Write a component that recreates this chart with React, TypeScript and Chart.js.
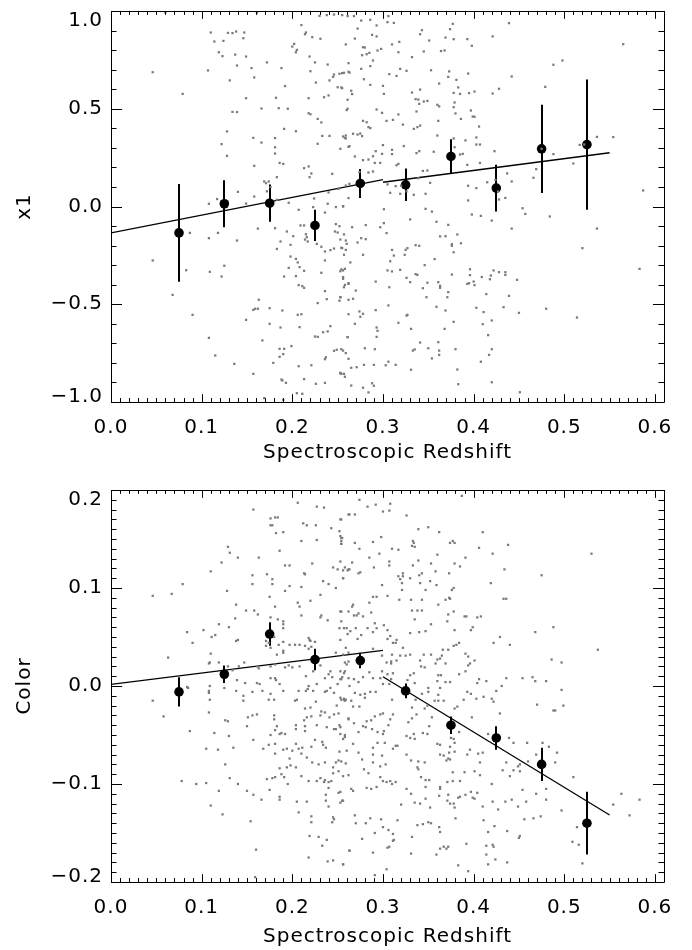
import React, { useEffect, useRef } from 'react';
import { Chart, registerables } from 'chart.js';

Chart.register(...registerables);

const FONT = 'DejaVu Sans';

// Binned means with their uncertainties
const binCenters = [0.075, 0.125, 0.175, 0.225, 0.275, 0.325, 0.375, 0.425, 0.475, 0.525];
const x1BinMean = [-0.135, 0.014, 0.017, -0.097, 0.118, 0.111, 0.256, 0.094, 0.295, 0.317];
const x1BinErr = [0.25, 0.12, 0.095, 0.08, 0.074, 0.083, 0.088, 0.12, 0.226, 0.333];
const colorBinMean = [-0.006, 0.012, 0.053, 0.027, 0.026, -0.005, -0.04, -0.053, -0.08, -0.14];
const colorBinErr = [0.015, 0.009, 0.012, 0.011, 0.008, 0.0075, 0.009, 0.012, 0.017, 0.032];

// Linear fits, one below and one above z = 0.3
const fitLowZ = [0, 0.3];
const fitHighZ = [0.3, 0.55];
const x1FitLow = [-0.135, 0.138];
const x1FitHigh = [0.124, 0.275];
const colorFitLow = [0.0017, 0.0363];
const colorFitHigh = [0.0095, -0.1316];

// Axis ticks
const xTicks = [0, 0.1, 0.2, 0.3, 0.4, 0.5, 0.6];
const x1Ticks = [-1, -0.5, 0, 0.5, 1];
const colorTicks = [-0.2, -0.1, 0, 0.1, 0.2];

// Individual supernovae: [redshift, x1]
const x1Sample: number[][] = [
  [0.046,0.687],[0.079,0.576],[0.110,0.890],[0.114,0.844],[0.124,0.847],[0.129,0.888],[0.134,0.887],[0.138,0.895],[0.147,0.890],[0.146,0.861],
  [0.119,0.789],[0.123,0.769],[0.137,0.777],[0.149,0.767],[0.107,0.696],[0.139,0.721],[0.131,0.645],[0.155,0.708],[0.158,0.660],[0.149,0.554],
  [0.172,0.737],[0.188,0.708],[0.192,0.616],[0.200,0.818],[0.202,0.832],[0.205,0.801],[0.204,0.789],[0.210,0.928],[0.214,0.881],[0.215,0.890],
  [0.222,0.866],[0.231,0.858],[0.219,0.767],[0.225,0.737],[0.220,0.692],[0.226,0.634],[0.239,0.726],[0.241,0.645],[0.245,0.663],[0.246,0.675],
  [0.250,0.610],[0.252,0.679],[0.255,0.605],[0.257,0.684],[0.262,0.689],[0.235,0.559],[0.240,0.568],[0.218,0.554],[0.218,0.477],[0.220,0.472],
  [0.228,0.448],[0.195,0.500],[0.185,0.503],[0.182,0.556],[0.166,0.501],[0.134,0.484],[0.139,0.483],[0.122,0.319],[0.128,0.384],[0.128,0.259],
  [0.157,0.351],[0.166,0.327],[0.181,0.350],[0.181,0.303],[0.181,0.271],[0.191,0.397],[0.204,0.385],[0.186,0.223],[0.190,0.218],[0.158,0.208],
  [0.174,0.128],[0.169,0.128],[0.171,0.119],[0.176,0.099],[0.183,0.150],[0.213,0.196],[0.218,0.205],[0.221,0.169],[0.219,0.150],[0.232,0.430],
  [0.233,0.361],[0.241,0.361],[0.228,0.321],[0.253,0.295],[0.256,0.358],[0.258,0.351],[0.262,0.305],[0.244,0.167],[0.251,0.090],[0.240,0.072],
  [0.261,0.546],[0.260,0.493],[0.140,0.075],[0.108,0.014],[0.117,0.038],[0.149,0.015],[0.158,0.051],[0.172,0.078],[0.183,0.034],[0.196,0.019],
  [0.224,0.041],[0.239,0.014],[0.248,-0.003],[0.256,0.002],[0.207,-0.017],[0.223,-0.003],[0.236,-0.031],[0.262,0.043],[0.060,0.991],[0.161,0.991],
  [0.230,0.975],[0.238,0.979],[0.246,0.982],[0.255,0.979],
  [0.046,-0.276],[0.083,-0.326],[0.068,-0.452],[0.090,-0.554],[0.087,-0.135],[0.108,-0.162],[0.118,-0.135],[0.109,-0.334],[0.122,-0.358],[0.125,-0.303],
  [0.139,-0.174],[0.162,-0.113],[0.108,-0.672],[0.115,-0.762],[0.136,-0.805],[0.149,-0.580],[0.157,-0.529],[0.159,-0.523],[0.162,-0.523],[0.163,-0.477],
  [0.157,-0.856],[0.167,-0.685],[0.175,-0.520],[0.175,-0.600],[0.181,-0.111],[0.183,-0.217],[0.187,-0.179],[0.189,-0.532],[0.187,-0.619],[0.194,-0.128],
  [0.198,-0.196],[0.198,-0.256],[0.201,-0.152],[0.204,-0.268],[0.206,-0.286],[0.208,-0.310],[0.206,-0.554],[0.210,-0.551],[0.208,-0.617],[0.207,-0.402],
  [0.211,-0.407],[0.213,-0.416],[0.213,-0.329],[0.191,-0.358],[0.196,-0.314],[0.204,-0.356],[0.186,-0.728],[0.186,-0.769],[0.190,-0.755],[0.191,-0.728],
  [0.199,-0.714],[0.193,-0.902],[0.189,-0.890],[0.179,-0.800],[0.188,-0.885],[0.207,-0.817],[0.221,-0.812],[0.225,-0.665],[0.213,-0.883],[0.226,-0.907],
  [0.236,-0.902],[0.205,-0.955],[0.211,-0.958],[0.169,-0.980],[0.190,-0.989],[0.209,-0.097],[0.213,-0.097],[0.215,-0.142],[0.216,-0.157],[0.214,-0.169],
  [0.217,-0.179],[0.227,-0.191],[0.232,-0.206],[0.236,-0.230],[0.242,-0.223],[0.246,-0.215],[0.252,-0.101],[0.254,-0.211],[0.259,-0.222],[0.236,-0.276],
  [0.232,-0.339],[0.253,-0.331],[0.256,-0.370],[0.258,-0.401],[0.254,-0.322],[0.262,-0.396],[0.248,-0.090],[0.247,-0.128],[0.250,-0.133],[0.253,-0.169],
  [0.259,-0.174],[0.253,-0.464],[0.252,-0.482],[0.236,-0.433],[0.238,-0.474],[0.228,-0.494],[0.242,-0.612],[0.239,-0.639],[0.234,-0.643],[0.228,-0.667],
  [0.237,-0.771],[0.236,-0.781],[0.246,-0.738],[0.253,-0.851],[0.254,-0.856],[0.258,-0.871],[0.262,-0.779],[0.261,-0.668],[0.262,-0.477],[0.256,-0.737],
  [0.249,-0.733],
  [0.261,0.974],[0.268,0.974],[0.276,0.951],[0.286,0.955],[0.293,0.926],[0.306,0.974],[0.305,0.943],[0.312,0.939],[0.272,0.910],[0.259,0.829],
  [0.269,0.859],[0.288,0.878],[0.293,0.870],[0.280,0.813],[0.277,0.774],[0.282,0.779],[0.285,0.786],[0.294,0.798],[0.298,0.806],[0.289,0.747],
  [0.278,0.815],[0.262,0.733],[0.255,0.682],[0.263,0.685],[0.276,0.704],[0.286,0.718],[0.279,0.651],[0.286,0.622],[0.254,0.609],[0.265,0.592],
  [0.266,0.575],[0.261,0.500],[0.310,0.829],[0.318,0.842],[0.317,0.789],[0.332,0.764],[0.341,0.881],[0.343,0.902],[0.351,0.849],[0.345,0.793],
  [0.364,0.795],[0.368,0.798],[0.374,0.907],[0.377,0.934],[0.369,0.864],[0.378,0.856],[0.393,0.856],[0.398,0.822],[0.421,0.870],[0.439,0.938],
  [0.307,0.677],[0.315,0.668],[0.319,0.704],[0.326,0.694],[0.353,0.697],[0.362,0.629],[0.373,0.691],[0.372,0.663],[0.381,0.648],[0.383,0.609],
  [0.378,0.581],[0.385,0.576],[0.395,0.580],[0.401,0.588],[0.394,0.680],[0.421,0.578],[0.428,0.602],[0.442,0.665],[0.479,0.612],[0.488,0.725],
  [0.498,0.747],[0.565,0.830],[0.300,0.617],[0.301,0.576],[0.332,0.583],[0.341,0.598],[0.336,0.549],[0.339,0.547],[0.340,0.525],[0.345,0.537],
  [0.349,0.540],[0.337,0.486],[0.360,0.520],[0.362,0.512],[0.379,0.532],[0.378,0.508],[0.397,0.491],[0.399,0.460],[0.401,0.459],[0.406,0.409],
  [0.380,0.476],[0.386,0.448],[0.293,0.496],[0.299,0.479],[0.304,0.438],[0.311,0.443],[0.317,0.471],[0.322,0.419],[0.278,0.438],[0.282,0.431],
  [0.284,0.406],[0.286,0.401],[0.272,0.368],[0.267,0.372],[0.275,0.373],[0.277,0.360],[0.259,0.363],[0.259,0.348],[0.263,0.309],[0.269,0.256],
  [0.278,0.237],[0.284,0.240],[0.289,0.257],[0.292,0.283],[0.291,0.223],[0.297,0.223],[0.299,0.269],[0.300,0.314],[0.310,0.290],[0.310,0.268],
  [0.315,0.211],[0.317,0.218],[0.323,0.309],[0.334,0.397],[0.338,0.406],[0.341,0.414],[0.340,0.283],[0.337,0.273],[0.356,0.280],[0.344,0.182],
  [0.349,0.184],[0.352,0.121],[0.339,0.145],[0.360,0.363],[0.361,0.438],[0.378,0.348],[0.379,0.303],[0.385,0.266],[0.388,0.269],[0.391,0.338],
  [0.403,0.353],[0.403,0.317],[0.407,0.317],[0.393,0.213],[0.407,0.223],[0.423,0.283],[0.415,0.124],[0.424,0.136],[0.427,0.077],[0.437,0.169],
  [0.442,0.128],[0.428,0.036],[0.435,0.044],[0.394,0.106],[0.403,0.094],[0.394,0.031],[0.398,-0.041],[0.408,-0.048],[0.454,-0.009],[0.457,-0.038],
  [0.466,0.147],[0.469,0.191],[0.488,0.268],[0.510,0.220],[0.517,0.315],[0.522,0.317],[0.536,0.356],[0.554,0.355],[0.587,0.082],[0.484,-0.051],
  [0.259,0.107],[0.263,0.116],[0.284,0.174],[0.289,0.179],[0.274,0.176],[0.305,0.113],[0.308,0.070],[0.314,0.104],[0.320,0.106],[0.319,0.065],
  [0.326,0.077],[0.334,0.060],[0.347,0.065],[0.301,-0.014],[0.330,-0.066],[0.347,-0.012],[0.354,-0.026],[0.256,0.000],[0.475,0.295],
  [0.257,-0.143],[0.260,-0.191],[0.266,-0.106],[0.281,-0.095],[0.276,-0.162],[0.272,-0.184],[0.281,-0.167],[0.278,-0.247],[0.264,-0.286],[0.257,-0.247],
  [0.255,-0.213],[0.258,-0.319],[0.256,-0.327],[0.256,-0.361],[0.262,-0.392],[0.257,-0.413],[0.270,-0.430],[0.267,-0.472],[0.253,-0.464],[0.262,-0.551],
  [0.274,-0.537],[0.278,-0.549],[0.275,-0.564],[0.269,-0.600],[0.261,-0.668],[0.254,-0.730],[0.259,-0.750],[0.265,-0.825],[0.271,-0.822],[0.279,-0.810],
  [0.290,-0.810],[0.280,-0.725],[0.291,-0.730],[0.293,-0.667],[0.293,-0.619],[0.294,-0.636],[0.292,-0.530],[0.292,-0.384],[0.297,-0.106],[0.301,-0.085],
  [0.304,-0.136],[0.310,-0.222],[0.312,-0.251],[0.308,-0.280],[0.305,-0.327],[0.310,-0.332],[0.319,-0.324],[0.325,-0.222],[0.327,-0.213],[0.324,-0.247],
  [0.336,-0.198],[0.340,-0.201],[0.346,-0.300],[0.336,-0.346],[0.338,-0.350],[0.326,-0.365],[0.330,-0.387],[0.344,-0.418],[0.349,-0.390],[0.348,-0.464],
  [0.357,-0.269],[0.359,-0.078],[0.363,-0.153],[0.369,-0.152],[0.372,-0.094],[0.382,-0.143],[0.386,-0.188],[0.376,-0.193],[0.376,-0.201],[0.378,-0.234],
  [0.361,-0.387],[0.363,-0.406],[0.363,-0.416],[0.372,-0.438],[0.371,-0.464],[0.376,-0.348],[0.359,-0.513],[0.369,-0.532],[0.378,-0.590],[0.368,-0.626],
  [0.361,-0.694],[0.350,-0.725],[0.354,-0.777],[0.362,-0.737],[0.362,-0.759],[0.380,-0.730],[0.382,-0.834],[0.383,-0.909],[0.331,-0.626],[0.341,-0.696],
  [0.335,-0.731],[0.333,-0.737],[0.317,-0.595],[0.306,-0.506],[0.307,-0.413],[0.327,-0.554],[0.326,-0.558],[0.314,-0.810],[0.303,-0.812],[0.306,-0.794],
  [0.331,-0.835],[0.288,-0.904],[0.290,-0.917],[0.284,-0.951],[0.278,-0.927],[0.265,-0.916],[0.257,-0.856],[0.253,-0.853],[0.393,-0.396],[0.395,-0.392],
  [0.396,-0.351],[0.396,-0.321],[0.400,-0.384],[0.401,-0.402],[0.409,-0.361],[0.420,-0.072],[0.418,-0.372],[0.419,-0.353],[0.422,-0.327],[0.428,-0.336],
  [0.435,-0.336],[0.435,-0.350],[0.448,-0.375],[0.414,-0.448],[0.403,-0.518],[0.411,-0.540],[0.410,-0.602],[0.420,-0.583],[0.416,-0.658],[0.420,-0.730],
  [0.417,-0.759],[0.408,-0.794],[0.433,-0.515],[0.439,-0.457],[0.450,-0.544],[0.442,-0.113],[0.420,-0.899],[0.451,-0.950],[0.480,-0.523],[0.520,-0.213],
  [0.514,-0.568],[0.536,-0.113],[0.583,-0.319],
];

// Individual supernovae: [redshift, color]
const colorSample: number[][] = [
  [0.046,0.092],[0.067,0.094],[0.079,0.104],[0.063,0.029],[0.084,0.055],[0.090,0.044],[0.046,-0.015],[0.084,-0.001],[0.085,-0.002],[0.102,0.057],
  [0.110,0.117],[0.122,0.126],[0.129,0.142],[0.131,0.136],[0.140,0.131],[0.128,0.097],[0.138,0.083],[0.149,0.077],[0.158,0.077],[0.162,0.073],
  [0.137,0.069],[0.119,0.063],[0.130,0.060],[0.115,0.052],[0.111,0.050],[0.110,0.033],[0.108,0.023],[0.109,0.024],[0.119,0.024],[0.129,0.020],
  [0.140,0.047],[0.138,0.046],[0.147,0.024],[0.141,0.020],[0.134,0.016],[0.139,0.006],[0.148,0.003],[0.161,0.003],[0.167,-0.005],[0.156,-0.006],
  [0.146,-0.010],[0.146,-0.015],[0.109,0.000],[0.108,-0.005],[0.108,-0.007],[0.109,-0.014],[0.125,-0.002],[0.138,-0.005],[0.157,0.180],[0.163,0.131],
  [0.156,0.104],[0.156,0.113],[0.172,0.114],[0.178,0.104],[0.178,0.109],[0.175,0.091],[0.181,0.081],[0.176,0.070],[0.184,0.068],[0.190,0.066],
  [0.190,0.063],[0.190,0.059],[0.180,0.050],[0.174,0.044],[0.171,0.046],[0.171,0.041],[0.176,0.039],[0.185,0.042],[0.190,0.045],[0.190,0.034],
  [0.183,0.032],[0.161,0.020],[0.163,0.018],[0.176,0.020],[0.181,0.022],[0.192,0.019],[0.196,0.021],[0.200,0.019],[0.208,0.020],[0.190,0.036],
  [0.197,0.042],[0.176,0.008],[0.181,0.008],[0.186,0.002],[0.176,-0.008],[0.164,0.002],[0.174,-0.014],[0.180,-0.014],[0.190,-0.005],[0.182,0.006],
  [0.176,0.164],[0.178,0.164],[0.181,0.172],[0.184,0.172],[0.176,0.171],[0.182,0.156],[0.190,0.157],[0.186,0.138],[0.192,0.123],[0.197,0.123],
  [0.192,0.097],[0.197,0.102],[0.206,0.085],[0.208,0.081],[0.210,0.101],[0.213,0.115],[0.214,0.114],[0.210,0.072],[0.220,0.087],[0.218,0.049],
  [0.219,0.047],[0.220,0.046],[0.225,0.045],[0.221,0.040],[0.218,0.038],[0.214,0.041],[0.208,0.042],[0.203,0.042],[0.212,0.166],[0.216,0.164],
  [0.226,0.164],[0.210,0.148],[0.227,0.149],[0.222,0.125],[0.227,0.183],[0.235,0.182],[0.243,0.161],[0.252,0.158],[0.245,0.121],[0.250,0.119],
  [0.253,0.153],[0.255,0.151],[0.254,0.148],[0.254,0.145],[0.254,0.170],[0.262,0.175],[0.253,0.127],[0.256,0.118],[0.262,0.119],[0.256,0.110],
  [0.248,0.100],[0.234,0.107],[0.240,0.104],[0.231,0.093],[0.231,0.070],[0.232,0.072],[0.239,0.067],[0.254,0.076],[0.262,0.076],[0.254,0.066],
  [0.252,0.059],[0.260,0.059],[0.253,0.047],[0.248,0.034],[0.256,0.032],[0.258,0.024],[0.253,0.015],[0.242,0.015],[0.240,0.012],[0.236,0.008],
  [0.244,0.009],[0.250,0.002],[0.253,0.007],[0.255,0.009],[0.258,0.015],[0.231,0.021],[0.223,0.015],[0.215,0.010],[0.218,0.000],[0.223,-0.005],
  [0.217,-0.003],[0.215,-0.005],[0.227,0.002],[0.207,-0.005],[0.203,-0.015],[0.205,-0.014],[0.226,-0.016],[0.242,-0.002],[0.238,-0.005],[0.236,-0.006],
  [0.246,-0.007],[0.253,-0.012],[0.257,-0.014],[0.259,-0.014],[0.206,0.187],[0.262,0.034],[0.262,0.008],[0.262,0.025],[0.260,0.022],[0.249,-0.020],
  [0.220,-0.022],[0.214,-0.023],
  [0.274,0.190],[0.283,0.183],[0.292,0.185],[0.308,0.186],[0.307,0.179],[0.300,0.178],[0.263,0.175],[0.269,0.175],[0.326,0.174],[0.387,0.194],
  [0.339,0.160],[0.350,0.162],[0.362,0.157],[0.410,0.157],[0.333,0.148],[0.334,0.146],[0.332,0.143],[0.335,0.142],[0.374,0.146],[0.377,0.148],
  [0.379,0.146],[0.406,0.141],[0.438,0.144],[0.421,0.135],[0.360,0.134],[0.391,0.131],[0.385,0.122],[0.379,0.125],[0.353,0.125],[0.339,0.128],
  [0.333,0.123],[0.343,0.115],[0.340,0.113],[0.330,0.110],[0.352,0.107],[0.359,0.103],[0.347,0.098],[0.341,0.105],[0.310,0.140],[0.317,0.139],
  [0.298,0.152],[0.289,0.147],[0.296,0.135],[0.285,0.131],[0.290,0.121],[0.307,0.127],[0.307,0.123],[0.322,0.115],[0.322,0.112],[0.319,0.109],
  [0.317,0.112],[0.321,0.105],[0.321,0.098],[0.318,0.088],[0.305,0.092],[0.299,0.103],[0.331,0.088],[0.285,0.085],[0.289,0.091],[0.293,0.091],
  [0.273,0.115],[0.275,0.116],[0.261,0.118],[0.263,0.119],[0.266,0.126],[0.258,0.121],[0.256,0.110],[0.269,0.146],[0.274,0.140],[0.254,0.151],
  [0.254,0.145],[0.253,0.170],[0.358,0.117],[0.373,0.115],[0.376,0.098],[0.378,0.100],[0.369,0.088],[0.373,0.090],[0.374,0.089],[0.361,0.083],
  [0.343,0.088],[0.419,0.105],[0.433,0.089],[0.436,0.089],[0.434,0.119],[0.475,0.113],[0.530,0.135],[0.488,0.060],[0.468,0.055],[0.429,0.050],
  [0.440,0.042],[0.422,0.044],[0.408,0.071],[0.404,0.070],[0.392,0.071],[0.390,0.071],[0.399,0.060],[0.397,0.057],[0.379,0.057],[0.372,0.073],
  [0.371,0.066],[0.378,0.076],[0.353,0.063],[0.347,0.056],[0.340,0.055],[0.330,0.054],[0.332,0.077],[0.338,0.077],[0.343,0.077],[0.335,0.068],
  [0.315,0.047],[0.314,0.044],[0.311,0.044],[0.305,0.057],[0.308,0.051],[0.305,0.048],[0.301,0.062],[0.291,0.064],[0.293,0.059],[0.289,0.055],
  [0.283,0.059],[0.276,0.052],[0.270,0.059],[0.264,0.056],[0.257,0.059],[0.261,0.053],[0.268,0.072],[0.267,0.083],[0.266,0.081],[0.271,0.072],
  [0.273,0.074],[0.278,0.071],[0.287,0.075],[0.253,0.076],[0.259,0.039],[0.272,0.048],[0.289,0.038],[0.299,0.031],[0.304,0.024],[0.309,0.023],
  [0.310,0.032],[0.309,0.025],[0.315,0.026],[0.322,0.039],[0.325,0.031],[0.330,0.032],[0.341,0.026],[0.342,0.020],[0.345,0.032],[0.346,0.019],
  [0.353,0.032],[0.358,0.023],[0.360,0.027],[0.363,0.028],[0.369,0.023],[0.365,0.031],[0.372,0.037],[0.378,0.041],[0.381,0.042],[0.384,0.044],
  [0.366,0.037],[0.391,0.033],[0.394,0.030],[0.396,0.023],[0.394,0.021],[0.401,0.026],[0.391,0.015],[0.404,0.003],[0.406,0.007],[0.393,-0.006],
  [0.384,0.012],[0.374,0.004],[0.369,0.004],[0.364,0.011],[0.361,0.011],[0.360,0.005],[0.363,-0.002],[0.361,-0.009],[0.361,-0.015],[0.357,-0.015],
  [0.367,-0.015],[0.350,-0.002],[0.350,-0.006],[0.343,-0.008],[0.335,0.003],[0.330,0.011],[0.327,0.006],[0.319,0.031],[0.334,0.013],[0.311,0.013],
  [0.309,0.007],[0.305,0.012],[0.299,0.015],[0.297,0.008],[0.289,0.008],[0.285,0.014],[0.278,0.009],[0.273,0.004],[0.268,0.007],[0.257,0.013],
  [0.263,0.000],[0.254,0.007],[0.269,-0.007],[0.265,-0.015],[0.275,-0.009],[0.280,-0.008],[0.286,-0.006],[0.292,-0.006],[0.280,-0.012],[0.257,-0.013],
  [0.254,-0.014],[0.258,-0.015],[0.310,-0.014],[0.307,0.002],[0.300,0.002],[0.336,-0.014],[0.389,-0.014],[0.397,-0.008],[0.403,-0.013],[0.411,-0.011],
  [0.414,0.005],[0.420,-0.013],[0.422,-0.016],[0.425,-0.005],[0.431,0.000],[0.436,0.008],[0.454,0.008],[0.465,0.009],[0.468,0.005],[0.480,0.005],
  [0.497,-0.004],[0.497,0.024],[0.486,0.027],[0.537,0.037],[0.274,-0.021],[0.267,-0.021],[0.332,-0.022],[0.349,-0.020],[0.346,-0.023],[0.379,-0.023],
  [0.382,-0.021],[0.470,-0.019],[0.488,-0.025],[0.499,-0.020],
  [0.058,-0.031],[0.087,-0.046],[0.108,-0.027],[0.114,-0.048],[0.126,-0.035],[0.129,-0.036],[0.130,-0.051],[0.105,-0.064],[0.118,-0.065],[0.135,-0.063],
  [0.126,-0.080],[0.131,-0.094],[0.140,-0.100],[0.150,-0.107],[0.157,-0.111],[0.166,-0.116],[0.119,-0.107],[0.110,-0.122],[0.123,-0.131],[0.154,-0.138],
  [0.160,-0.167],[0.159,-0.195],[0.078,-0.097],[0.094,-0.100],[0.105,-0.099],[0.150,-0.041],[0.151,-0.032],[0.156,-0.030],[0.161,-0.029],[0.180,-0.030],
  [0.180,-0.034],[0.183,-0.041],[0.181,-0.045],[0.188,-0.048],[0.186,-0.049],[0.192,-0.049],[0.176,-0.050],[0.181,-0.059],[0.174,-0.060],[0.168,-0.064],
  [0.157,-0.055],[0.181,-0.069],[0.190,-0.065],[0.194,-0.064],[0.200,-0.066],[0.197,-0.074],[0.204,-0.059],[0.207,-0.064],[0.211,-0.063],[0.210,-0.069],
  [0.214,-0.046],[0.214,-0.041],[0.204,-0.040],[0.204,-0.044],[0.213,-0.035],[0.216,-0.032],[0.221,-0.031],[0.232,-0.026],[0.231,-0.030],[0.236,-0.027],
  [0.241,-0.032],[0.246,-0.029],[0.251,-0.028],[0.252,-0.040],[0.248,-0.044],[0.246,-0.044],[0.238,-0.042],[0.227,-0.040],[0.225,-0.055],[0.233,-0.057],
  [0.234,-0.060],[0.237,-0.063],[0.221,-0.062],[0.252,-0.067],[0.251,-0.076],[0.248,-0.078],[0.245,-0.089],[0.251,-0.087],[0.256,-0.092],[0.262,-0.091],
  [0.245,-0.083],[0.236,-0.078],[0.229,-0.080],[0.222,-0.078],[0.216,-0.073],[0.204,-0.083],[0.198,-0.081],[0.194,-0.083],[0.186,-0.084],[0.188,-0.090],
  [0.191,-0.093],[0.181,-0.093],[0.178,-0.094],[0.172,-0.095],[0.175,-0.106],[0.186,-0.113],[0.186,-0.116],[0.195,-0.100],[0.205,-0.118],[0.216,-0.118],
  [0.207,-0.129],[0.221,-0.133],[0.221,-0.139],[0.219,-0.153],[0.229,-0.154],[0.238,-0.157],[0.233,-0.163],[0.218,-0.175],[0.239,-0.179],[0.245,-0.178],
  [0.256,-0.182],[0.263,-0.168],[0.245,-0.134],[0.244,-0.139],[0.246,-0.136],[0.253,-0.119],[0.256,-0.117],[0.240,-0.123],[0.237,-0.117],[0.237,-0.111],
  [0.240,-0.104],[0.251,-0.109],[0.253,-0.108],[0.243,-0.097],[0.240,-0.098],[0.235,-0.098],[0.218,-0.097],[0.210,-0.092],[0.227,-0.097],[0.231,-0.094],
  [0.236,-0.096],[0.253,-0.049],[0.256,-0.054],[0.258,-0.052],[0.262,-0.033],
  [0.262,-0.034],[0.268,-0.038],[0.278,-0.041],[0.282,-0.036],[0.287,-0.035],[0.291,-0.031],[0.297,-0.029],[0.300,-0.028],[0.311,-0.029],[0.308,-0.034],
  [0.306,-0.040],[0.301,-0.046],[0.300,-0.049],[0.294,-0.047],[0.288,-0.044],[0.281,-0.042],[0.273,-0.047],[0.267,-0.059],[0.258,-0.050],[0.253,-0.042],
  [0.260,-0.066],[0.254,-0.077],[0.259,-0.079],[0.273,-0.068],[0.277,-0.075],[0.279,-0.085],[0.289,-0.070],[0.289,-0.078],[0.289,-0.063],[0.294,-0.058],
  [0.302,-0.058],[0.299,-0.071],[0.311,-0.064],[0.314,-0.061],[0.316,-0.061],[0.303,-0.080],[0.297,-0.082],[0.297,-0.093],[0.293,-0.103],[0.284,-0.089],
  [0.282,-0.104],[0.287,-0.105],[0.300,-0.097],[0.304,-0.098],[0.308,-0.097],[0.310,-0.100],[0.314,-0.098],[0.331,-0.076],[0.339,-0.077],[0.338,-0.083],
  [0.339,-0.085],[0.342,-0.093],[0.347,-0.096],[0.351,-0.096],[0.331,-0.110],[0.335,-0.119],[0.341,-0.120],[0.347,-0.115],[0.320,-0.121],[0.298,-0.136],
  [0.286,-0.135],[0.281,-0.140],[0.270,-0.140],[0.265,-0.105],[0.267,-0.107],[0.255,-0.117],[0.269,-0.132],[0.291,-0.150],[0.300,-0.144],[0.306,-0.147],
  [0.311,-0.151],[0.312,-0.157],[0.307,-0.164],[0.305,-0.165],[0.311,-0.158],[0.316,-0.137],[0.326,-0.070],[0.326,-0.051],[0.330,-0.053],[0.334,-0.049],
  [0.335,-0.054],[0.344,-0.048],[0.349,-0.049],[0.328,-0.037],[0.332,-0.033],[0.337,-0.029],[0.351,-0.041],[0.354,-0.032],[0.360,-0.059],[0.363,-0.060],
  [0.363,-0.070],[0.367,-0.071],[0.370,-0.076],[0.373,-0.068],[0.372,-0.074],[0.374,-0.075],[0.379,-0.067],[0.377,-0.088],[0.371,-0.098],[0.377,-0.097],
  [0.363,-0.103],[0.363,-0.105],[0.362,-0.112],[0.372,-0.111],[0.371,-0.117],[0.374,-0.120],[0.378,-0.120],[0.379,-0.124],[0.380,-0.135],[0.383,-0.114],
  [0.385,-0.113],[0.391,-0.111],[0.397,-0.108],[0.399,-0.114],[0.401,-0.115],[0.404,-0.109],[0.410,-0.123],[0.421,-0.118],[0.427,-0.126],[0.435,-0.118],
  [0.442,-0.116],[0.449,-0.123],[0.456,-0.136],[0.466,-0.135],[0.474,-0.133],[0.458,-0.118],[0.469,-0.110],[0.480,-0.105],[0.454,-0.106],[0.440,-0.092],
  [0.432,-0.086],[0.444,-0.086],[0.449,-0.082],[0.451,-0.080],[0.460,-0.077],[0.490,-0.078],[0.492,-0.068],[0.469,-0.070],[0.483,-0.062],[0.476,-0.058],
  [0.459,-0.058],[0.444,-0.058],[0.439,-0.053],[0.416,-0.049],[0.410,-0.068],[0.405,-0.069],[0.396,-0.065],[0.393,-0.070],[0.390,-0.088],[0.401,-0.087],
  [0.407,-0.078],[0.407,-0.091],[0.420,-0.100],[0.411,-0.137],[0.416,-0.149],[0.423,-0.143],[0.437,-0.148],[0.450,-0.155],[0.451,-0.153],[0.414,-0.163],
  [0.421,-0.162],[0.422,-0.164],[0.414,-0.172],[0.416,-0.182],[0.437,-0.180],[0.424,-0.177],[0.392,-0.161],[0.383,-0.183],[0.394,-0.189],[0.372,-0.164],
  [0.370,-0.166],[0.367,-0.164],[0.363,-0.166],[0.359,-0.172],[0.331,-0.171],[0.332,-0.154],[0.353,-0.140],[0.350,-0.139],[0.362,-0.144],[0.363,-0.149],
  [0.344,-0.141],[0.338,-0.142],[0.352,-0.124],[0.347,-0.103],[0.326,-0.105],[0.346,-0.078],[0.277,-0.156],[0.289,-0.170],[0.304,-0.187],[0.291,-0.193],
  [0.263,-0.168],[0.256,-0.182],[0.510,-0.093],[0.497,-0.127],[0.480,-0.116],[0.509,-0.159],[0.516,-0.162],[0.514,-0.144],[0.520,-0.181],[0.554,-0.121],
  [0.563,-0.110],[0.572,-0.132],[0.583,-0.116],[0.429,-0.028],[0.384,-0.047],[0.379,-0.058],[0.374,-0.062],[0.385,-0.097],[0.398,-0.032],[0.490,-0.025],
  [0.436,-0.078],[0.451,-0.087],[0.378,-0.054],[0.375,-0.053],
];

interface PanelSpec {
  sample: number[][];
  mean: number[];
  err: number[];
  fitLow: number[];
  fitHigh: number[];
  yMin: number;
  yMax: number;
  yTicks: number[];
  yMinorStep: number;
  yMinorPerMajor: number;
  yTitle: string;
  height: number;
  padTop: number;
  titlePadBottom: number;
}

const x1Panel: PanelSpec = {
  sample: x1Sample,
  mean: x1BinMean,
  err: x1BinErr,
  fitLow: x1FitLow,
  fitHigh: x1FitHigh,
  yMin: -1,
  yMax: 1,
  yTicks: x1Ticks,
  yMinorStep: 0.1,
  yMinorPerMajor: 5,
  yTitle: 'x1',
  height: 470,
  padTop: 11,
  titlePadBottom: 5,
};

const colorPanel: PanelSpec = {
  sample: colorSample,
  mean: colorBinMean,
  err: colorBinErr,
  fitLow: colorFitLow,
  fitHigh: colorFitHigh,
  yMin: -0.2,
  yMax: 0.2,
  yTicks: colorTicks,
  yMinorStep: 0.01,
  yMinorPerMajor: 10,
  yTitle: 'Color',
  height: 480,
  padTop: 20,
  titlePadBottom: 1,
};

const X_MAX = 0.61;
const X_MINOR = 0.01;
const X_MINOR_PER_MAJOR = 10;

const fmt = (v: number) => v.toFixed(1).replace('-', '\u2212');

// Boxed frame with inward ticks on all four sides, error bars and y labels
function axesPlugin(spec: PanelSpec) {
  return {
    id: 'boxAxes',
    beforeDraw(chart: any) {
      chart.ctx.letterSpacing = '1px';
    },
    beforeDatasetsDraw(chart: any) {
      const { ctx, chartArea, scales } = chart;
      const x = scales.x;
      const y = scales.y;
      ctx.save();
      ctx.beginPath();
      ctx.rect(chartArea.left, chartArea.top, chartArea.right - chartArea.left, chartArea.bottom - chartArea.top);
      ctx.clip();
      ctx.strokeStyle = '#000';
      ctx.lineWidth = 2;
      binCenters.forEach((z, i) => {
        const px = Math.round(x.getPixelForValue(z));
        ctx.beginPath();
        ctx.moveTo(px, y.getPixelForValue(spec.mean[i] - spec.err[i]));
        ctx.lineTo(px, y.getPixelForValue(spec.mean[i] + spec.err[i]));
        ctx.stroke();
      });
      ctx.restore();
    },
    afterDraw(chart: any) {
      const { ctx, chartArea, scales } = chart;
      const x = scales.x;
      const y = scales.y;
      const { left, right, top, bottom } = chartArea;
      const w = right - left;
      const h = bottom - top;
      const xMajorLen = 0.02 * h;
      const yMajorLen = 0.02 * w;
      const crisp = (v: number) => Math.round(v) + 0.5;
      ctx.save();
      ctx.strokeStyle = '#000';
      ctx.lineWidth = 1;
      ctx.beginPath();
      ctx.rect(crisp(left), crisp(top), Math.round(right) - Math.round(left), Math.round(bottom) - Math.round(top));
      ctx.stroke();

      ctx.beginPath();
      const nx = Math.round(X_MAX / X_MINOR);
      for (let k = 0; k <= nx; k++) {
        const px = crisp(x.getPixelForValue(k * X_MINOR));
        const len = k % X_MINOR_PER_MAJOR === 0 ? xMajorLen : xMajorLen / 2;
        ctx.moveTo(px, bottom);
        ctx.lineTo(px, bottom - len);
        ctx.moveTo(px, top);
        ctx.lineTo(px, top + len);
      }
      const k0 = Math.round(spec.yMin / spec.yMinorStep);
      const k1 = Math.round(spec.yMax / spec.yMinorStep);
      for (let k = k0; k <= k1; k++) {
        const py = crisp(y.getPixelForValue(k * spec.yMinorStep));
        const len = k % spec.yMinorPerMajor === 0 ? yMajorLen : yMajorLen / 2;
        ctx.moveTo(left, py);
        ctx.lineTo(left + len, py);
        ctx.moveTo(right, py);
        ctx.lineTo(right - len, py);
      }
      ctx.stroke();

      ctx.fillStyle = '#000';
      ctx.font = `20px "${FONT}"`;
      ctx.textAlign = 'right';
      ctx.textBaseline = 'middle';
      ctx.letterSpacing = '1px';
      spec.yTicks.forEach((v) => {
        const py = Math.min(Math.max(y.getPixelForValue(v), top + 10), bottom - 5);
        ctx.fillText(fmt(v), left - 8, py);
      });
      ctx.restore();
    },
  };
}

function buildConfig(spec: PanelSpec): any {
  const pts = (arr: number[][]) => arr.map(([a, b]) => ({ x: a, y: b }));
  return {
    type: 'scatter',
    data: {
      datasets: [
        {
          data: pts(spec.sample),
          pointStyle: 'rect',
          pointRadius: 1.6,
          backgroundColor: '#7a7a7a',
          borderWidth: 0,
          order: 1,
        },
        {
          data: fitLowZ.map((z, i) => ({ x: z, y: spec.fitLow[i] })),
          showLine: true,
          borderColor: '#000',
          borderWidth: 1.3,
          pointRadius: 0,
          order: 2,
        },
        {
          data: fitHighZ.map((z, i) => ({ x: z, y: spec.fitHigh[i] })),
          showLine: true,
          borderColor: '#000',
          borderWidth: 1.3,
          pointRadius: 0,
          order: 2,
        },
        {
          data: binCenters.map((z, i) => ({ x: z, y: spec.mean[i] })),
          pointStyle: 'circle',
          pointRadius: 4.8,
          backgroundColor: '#000',
          borderWidth: 0,
          order: 3,
        },
      ],
    },
    options: {
      responsive: false,
      animation: false,
      events: [],
      layout: { padding: { top: spec.padTop, right: 28, left: 0, bottom: 0 } },
      plugins: { legend: { display: false }, tooltip: { enabled: false } },
      scales: {
        x: {
          type: 'linear',
          min: 0,
          max: X_MAX,
          grid: { display: false, drawTicks: false },
          border: { display: false },
          afterBuildTicks: (s: any) => {
            s.ticks = xTicks.map((v) => ({ value: v }));
          },
          afterFit: (s: any) => {
            s.height = 68;
          },
          ticks: {
            autoSkip: false,
            maxRotation: 0,
            padding: 14,
            color: '#000',
            font: { family: FONT, size: 20 },
            callback: (v: number) => fmt(Number(v)),
          },
          title: {
            display: true,
            text: 'Spectroscopic Redshift',
            color: '#000',
            font: { family: FONT, size: 20 },
            padding: { top: 0, bottom: spec.titlePadBottom },
          },
        },
        y: {
          type: 'linear',
          min: spec.yMin,
          max: spec.yMax,
          grid: { display: false, drawTicks: false },
          border: { display: false },
          ticks: { display: false },
          afterFit: (s: any) => {
            s.width = 111;
          },
          title: {
            display: true,
            text: spec.yTitle,
            color: '#000',
            font: { family: FONT, size: 20 },
            padding: { top: 13, bottom: 0 },
          },
        },
      },
    },
    plugins: [axesPlugin(spec)],
  };
}

function Panel({ spec }: { spec: PanelSpec }) {
  const ref = useRef<HTMLCanvasElement>(null);
  useEffect(() => {
    const chart = new Chart(ref.current as HTMLCanvasElement, buildConfig(spec));
    return () => chart.destroy();
  }, [spec]);
  return (
    <canvas
      ref={ref}
      width={692}
      height={spec.height}
      style={{ display: 'block', width: 692, height: spec.height }}
    />
  );
}

export default function App() {
  return (
    <div style={{ position: 'absolute', left: 0, top: 0, width: 692, height: 950, background: '#fff' }}>
      <Panel spec={x1Panel} />
      <Panel spec={colorPanel} />
    </div>
  );
}
